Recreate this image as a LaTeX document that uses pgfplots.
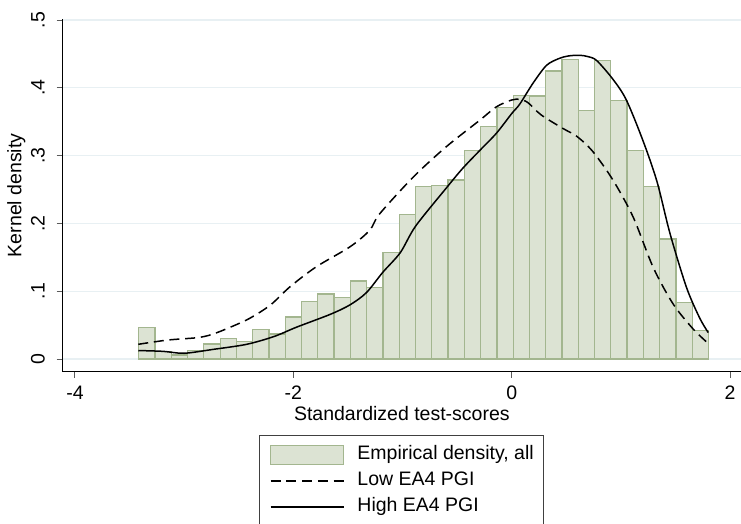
\documentclass[border=0pt]{standalone}
\usepackage{fontspec}
\setmainfont{Liberation Sans}
\usepackage{pgfplots}
\pgfplotsset{compat=1.18}
\definecolor{histfill}{RGB}{220,227,211}
\definecolor{histedge}{RGB}{163,182,143}
\definecolor{gridc}{RGB}{232,240,243}
\definecolor{tickc}{RGB}{90,90,90}
\newcommand{\stfont}{\fontsize{19.5bp}{22bp}\selectfont}

\begin{document}
\begin{tikzpicture}
\begin{axis}[
  at={(0,0)}, anchor=south west,
  scale only axis, width=678.3bp, height=352.7bp,
  xmin=-4.112, xmax=2.1, ymin=-0.0187, ymax=0.5015,
  axis lines=left, axis line style={-, black, line width=1bp},
  tick align=outside, major tick length=6bp,
  tick style={tickc, line width=1bp},
  xtick={-4,-2,0,2}, xticklabels={-4,-2,0,2},
  ytick={0,0.1,0.2,0.3,0.4,0.5}, yticklabels={0,.1,.2,.3,.4,.5},
  ymajorgrids, grid style={gridc, line width=1.3bp},
  /pgf/number format/assume math mode=true,
  tick label style={font=\stfont},
  xticklabel style={yshift=-8bp, anchor=north, inner sep=0pt},
  yticklabel style={xshift=-12bp, rotate=90, anchor=base, inner sep=0pt},
  xlabel={Standardized test-scores},
  ylabel={Kernel density},
  label style={font=\stfont},
  xlabel style={at={(axis description cs:0.5,-0.139)}, anchor=base},
  ylabel style={at={(axis description cs:-0.061,0.5)}, anchor=base},
  legend style={
    at={(axis description cs:0.5,-0.1803)}, anchor=north,
    draw=black!75, line width=1bp, fill=white,
    font=\stfont, inner xsep=10bp, inner ysep=6bp,
    row sep=0pt,
    nodes={inner xsep=0pt, inner ysep=4bp, text height=14bp, text depth=4bp},
    /tikz/every odd column/.append style={column sep=13bp},
  },
  legend cell align=left,
]
\addplot[ybar interval, fill=histfill, draw=histedge, line width=1.3bp,
  legend image code/.code={\draw[fill=histfill, draw=histedge, line width=1.3bp] (0bp,-9.5bp) rectangle (73bp,9.5bp);}]
  coordinates {
  (-3.416,0.047) (-3.267,0.011) (-3.118,0.006) (-2.969,0.013) (-2.820,0.022)
  (-2.670,0.030) (-2.521,0.026) (-2.372,0.044) (-2.223,0.037) (-2.074,0.062)
  (-1.925,0.085) (-1.776,0.096) (-1.627,0.091) (-1.478,0.115) (-1.328,0.105)
  (-1.179,0.157) (-1.030,0.213) (-0.881,0.254) (-0.732,0.256) (-0.583,0.264)
  (-0.434,0.308) (-0.285,0.343) (-0.136,0.371) (0.014,0.389) (0.163,0.388)
  (0.312,0.425) (0.461,0.442) (0.610,0.367) (0.759,0.440) (0.908,0.381)
  (1.057,0.308) (1.206,0.254) (1.356,0.177) (1.505,0.083) (1.654,0.042)
  (1.803,0.042)
  };
\addlegendentry{Empirical density, all}
\addplot[smooth, black, line width=1.5bp, dash pattern=on 10bp off 5.75bp,
  legend image code/.code={\draw[black, line width=1.5bp, dash pattern=on 10bp off 5.75bp] (0bp,0bp) -- (73bp,0bp);}]
  coordinates {
  (-3.42,0.0217) (-3.15,0.028) (-2.885,0.0314) (-2.75,0.036) (-2.58,0.0467)
  (-2.4,0.060) (-2.21,0.0796) (-2.03,0.1066) (-1.79,0.136) (-1.48,0.1656)
  (-1.30,0.190) (-1.21,0.214) (-0.90,0.2686) (-0.60,0.313) (-0.29,0.3525)
  (-0.14,0.372) (0.0,0.382) (0.075,0.383) (0.15,0.378) (0.27,0.360)
  (0.47,0.340) (0.6,0.328) (0.745,0.3056) (0.928,0.2638) (1.112,0.2095)
  (1.295,0.1355) (1.478,0.0813) (1.661,0.0444) (1.80,0.023)
  };
\addlegendentry{Low EA4 PGI}
\addplot[smooth, black, line width=1.5bp,
  legend image code/.code={\draw[black, line width=1.5bp] (0bp,0bp) -- (73bp,0bp);}]
  coordinates {
  (-3.42,0.0125) (-3.19,0.0113) (-3.0,0.0085) (-2.73,0.0143) (-2.43,0.0216)
  (-2.18,0.033) (-1.97,0.047) (-1.66,0.066) (-1.48,0.080) (-1.33,0.098)
  (-1.18,0.128) (-1.02,0.157) (-0.88,0.196) (-0.6,0.252) (-0.45,0.281)
  (-0.29,0.308) (-0.14,0.333) (0.0,0.362) (0.074,0.376) (0.196,0.407)
  (0.318,0.433) (0.43,0.443) (0.52,0.447) (0.62,0.448) (0.70,0.446)
  (0.78,0.440) (0.93,0.412) (1.05,0.382) (1.2,0.323) (1.33,0.262)
  (1.45,0.185) (1.6,0.106) (1.72,0.061) (1.80,0.039)
  };
\addlegendentry{High EA4 PGI}
\end{axis}
\pgfresetboundingbox
\path[use as bounding box] (-62.7bp,-152.3bp) rectangle (678.3bp,371.7bp);
\end{tikzpicture}
\end{document}
